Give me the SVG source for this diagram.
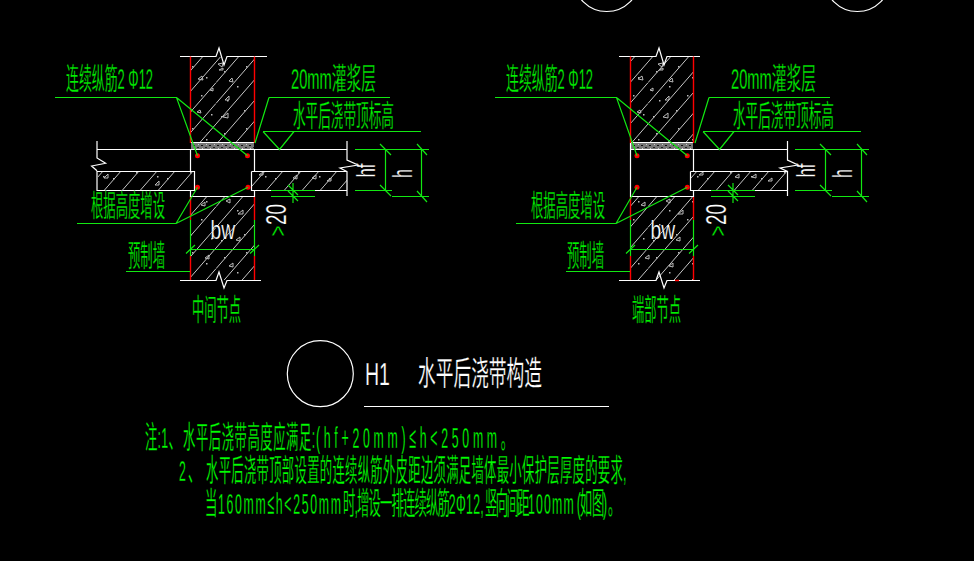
<svg xmlns="http://www.w3.org/2000/svg" width="974" height="561" viewBox="0 0 974 561">
<style>
.w{fill:none;stroke:#fff;stroke-width:1.2}
.g{fill:none;stroke:#12e812;stroke-width:1.2}
.r{fill:none;stroke:#f00;stroke-width:1.4}
.d{fill:#f00}
.h{stroke:none}
.s{fill:none;stroke:#bbb;stroke-width:1}
.t{font-family:"Liberation Sans","Noto Sans CJK SC",sans-serif;fill:#00f000;stroke:#000;stroke-width:.3}
.c{font-family:"Noto Sans CJK SC","Liberation Sans",sans-serif;fill:#00f000;stroke:#000;stroke-width:.3}
.wt{font-family:"Liberation Sans","Noto Sans CJK SC",sans-serif;fill:#fff;stroke:#000;stroke-width:.25}
.n{font-size:28px;stroke-width:.3;fill:#00ff00}
</style>
<defs>
<pattern id="hatch" patternUnits="userSpaceOnUse" width="54" height="62">
<g stroke="#ddd" stroke-width="0.9" fill="none">
<path d="M0,20.7L18,0M0,41.4L36,0M0,62L54,0M18,62L54,20.7M36,62L54,41.4"/>
</g>
<g fill="#bbb">
<rect x="8" y="9" width="1.500" height="1.500"/><rect x="30" y="4" width="1.500" height="1.500"/><rect x="44" y="15" width="1.500" height="1.500"/>
<rect x="21" y="24" width="1.500" height="1.500"/><rect x="11" y="38" width="1.500" height="1.500"/><rect x="39" y="33" width="1.500" height="1.500"/>
<rect x="28" y="48" width="1.500" height="1.500"/><rect x="49" y="52" width="1.500" height="1.500"/><rect x="5" y="54" width="1.500" height="1.500"/>
</g>
</pattern>
<pattern id="grout" patternUnits="userSpaceOnUse" width="8" height="6" x="0" y="144">
<rect width="8" height="6" fill="#777"/>
<rect x="1" y="1" width="2" height="1" fill="#111"/><rect x="5" y="3" width="2" height="1" fill="#222"/><rect x="2" y="4" width="1" height="1" fill="#ccc"/><rect x="6" y="0" width="1" height="1" fill="#ccc"/>
</pattern>
<g id="wall-specks">
<path class="s" d="M198,79L202,76L203,80ZM218,64L223,63L222,67ZM219,70H223V68ZM225,100L229,96V100ZM223,117L228,113V118ZM201,205L205,202V206ZM226,201L230,199V203ZM238,214L243,210V214Z"/>
<path class="s" d="M229,81L232,78L233,82ZM210,90L213,88V91ZM197,112L200,110L201,113ZM236,240L240,237V241ZM205,258L209,255V259ZM229,266L233,263V267Z"/>
</g>
</defs>
<rect width="974" height="561" fill="#000"/>

<g id="top-circles">
<circle class="w" cx="606.7" cy="-21.5" r="33"/>
<circle class="w" cx="857.3" cy="-21.5" r="33"/>
</g>

<g id="node-middle">
<rect class="h" x="191" y="57" width="63" height="86" fill="url(#hatch)"/>
<rect class="h" x="191" y="197" width="63" height="83" fill="url(#hatch)"/>
<rect class="h" x="98" y="172" width="96" height="18" fill="url(#hatch)"/>
<rect class="h" x="252" y="172" width="95" height="18" fill="url(#hatch)"/>
<rect class="h" x="191" y="143" width="63" height="6" fill="url(#grout)"/>
<use href="#wall-specks"/>
<path class="s" d="M104,178L108,174V178ZM155,185L159,181V185ZM259,175L263,172V175ZM293,178L297,175V179ZM312,178L316,175V179ZM327,181L331,178V181Z"/>
<path class="w" d="M180,56.500H216L219,48L224,65L227,56.500H267"/>
<path class="w" d="M180,280.500H216L219,272L224,288L227,280.500H261"/>
<path class="w" d="M190.500,142.500H254.500M190.500,149.500V171.500M254.500,149.500V171.500M190.500,190.500V196.500H254.500V190.500"/>
<path class="w" d="M97,141V158L105.600,163.300L91.600,166L97,170.700"/>
<path class="w" d="M97,149.500H347M97,171.500H194.500V190.500H97ZM251.500,171.500V190.500H347M251.500,171.500H347"/>
<path class="w" d="M347,141V160L358,165L340,168L347,171.500V196"/>
<path class="r" d="M190.500,56.500V143M254.500,56.500V143M190.500,197V220M190.500,256V280M254.500,197V220M254.500,256V280"/>
<path class="g" d="M190.500,220V256M254.500,220V256"/>
<circle class="d" cx="197.500" cy="155.700" r="2.500"/><circle class="d" cx="247.500" cy="155.700" r="2.500"/>
<circle class="d" cx="197.500" cy="187.300" r="2.500"/><circle class="d" cx="248" cy="187.300" r="2.500"/>
<text class="wt" transform="translate(210.500,239) scale(0.74,1)" font-size="26">bw</text>
<text class="wt" transform="translate(285.500,225) rotate(-90) scale(.65,1)" font-size="29">20</text>
<text class="t" transform="translate(285.500,236.500) rotate(-90) scale(.78,1)" font-size="24">&gt;</text>
<text class="wt" transform="translate(375,177.500) rotate(-90) scale(.645,1)" font-size="26">hf</text>
<text class="wt" transform="translate(412,178) rotate(-90) scale(.6,1)" font-size="27">h</text>
</g>

<g id="node-end">
<rect class="h" x="631" y="57" width="62" height="86" fill="url(#hatch)"/>
<rect class="h" x="631" y="197" width="62" height="83" fill="url(#hatch)"/>
<rect class="h" x="691" y="172" width="96" height="18" fill="url(#hatch)"/>
<rect class="h" x="631" y="143" width="62" height="6" fill="url(#grout)"/>
<use href="#wall-specks" x="440"/>
<path class="s" d="M699,175L703,172V175ZM735,177L739,174V178ZM752,177L756,174V178ZM768,181L772,178V181Z"/>
<path class="w" d="M619,56.500H656L659,48L664,65L667,56.500H700"/>
<path class="w" d="M619,280.500H656L659,272L664,288L667,280.500H700"/>
<path class="w" d="M630.500,142.500H693.500M630.500,143V196.500H693.500V190.500M693.500,149.500V171.500"/>
<path class="w" d="M630.500,149.500H787M690.500,171.500V190.500H787M690.500,171.500H787"/>
<path class="w" d="M787.500,141V160L798,165L780,168L787.500,171.500V196"/>
<path class="r" d="M630.500,56.500V143M693.500,56.500V143M630.500,197V220M630.500,256V280M693.500,197V220M693.500,256V280M675,280.500H679"/>
<path class="g" d="M630.500,220V256M693.500,220V256"/>
<circle class="d" cx="637" cy="155.700" r="2.500"/><circle class="d" cx="687.300" cy="155.700" r="2.500"/>
<circle class="d" cx="637" cy="187.300" r="2.500"/><circle class="d" cx="687.300" cy="187.300" r="2.500"/>
<text class="wt" transform="translate(650.500,239) scale(0.74,1)" font-size="26">bw</text>
<text class="wt" transform="translate(725.500,225) rotate(-90) scale(.65,1)" font-size="29">20</text>
<text class="t" transform="translate(725.500,236.500) rotate(-90) scale(.78,1)" font-size="24">&gt;</text>
<text class="wt" transform="translate(815,177.500) rotate(-90) scale(.645,1)" font-size="26">hf</text>
<text class="wt" transform="translate(852,178) rotate(-90) scale(.6,1)" font-size="27">h</text>
</g>

<g id="connectors">
<path class="g" d="M55,97.500H176.500L197.500,155.700M176.500,97.500L247.500,155.700"/>
<path class="g" d="M269,97.500H390M269,97.500L255,143"/>
<path class="g" d="M263,131.500H421M263,131.500L279.500,149.500L294,131.500"/>
<path class="g" d="M77,223.500H176L197.500,187.300M176,223.500L248,187.300"/>
<path class="g" d="M126,271.500H190"/>
<path class="g" d="M190,249.500H254.500M186,253.500L195,245M250,253.500L259,245"/>
<path class="g" d="M355,149.500H429M355,190.500H392M392,196.500H429M385.500,149.500V190.500M421.500,149.500V196.500"/>
<path class="g" d="M380,144L391,155M380,185L391,196M417,144L427,155M417,191L427,202"/>
<path class="g" d="M271,190.500H315M271,196.500H315M293,183V203M288,185L298,195M288,191L298,201"/>
<path class="g" d="M495,97.500H616.500L637,155.700M616.500,97.500L687.300,155.700"/>
<path class="g" d="M709,97.500H830M709,97.500L695,143"/>
<path class="g" d="M703,131.500H861M703,131.500L719.500,149.500L734,131.500"/>
<path class="g" d="M516,223.500H616L637,187.300M616,223.500L687.300,187.300"/>
<path class="g" d="M566,271.500H630"/>
<path class="g" d="M630,249.500H693.500M626,253.500L635,245M689,253.500L698,245"/>
<path class="g" d="M795,149.500H869M795,190.500H832M832,196.500H869M825.500,149.500V190.500M861.500,149.500V196.500"/>
<path class="g" d="M820,144L831,155M820,185L831,196M857,144L867,155M857,191L867,202"/>
<path class="g" d="M711,190.500H755M711,196.500H755M733,183V203M728,185L738,195M728,191L738,201"/>
</g>

<g id="labels">
<text class="t" x="66" y="88.500" font-size="30" textLength="87" lengthAdjust="spacingAndGlyphs">连续纵筋2 Φ12</text>
<text class="t" x="291" y="89" font-size="30" textLength="85" lengthAdjust="spacingAndGlyphs">20mm灌浆层</text>
<text class="c" x="293" y="126" font-size="30" textLength="101" lengthAdjust="spacingAndGlyphs">水平后浇带顶标高</text>
<text class="c" x="91" y="216" font-size="30" textLength="74" lengthAdjust="spacingAndGlyphs">根据高度增设</text>
<text class="c" x="128" y="265.500" font-size="30" textLength="37" lengthAdjust="spacingAndGlyphs">预制墙</text>
<text class="c" x="192" y="319.500" font-size="30" textLength="49" lengthAdjust="spacingAndGlyphs">中间节点</text>
<text class="t" x="506" y="88.500" font-size="30" textLength="87" lengthAdjust="spacingAndGlyphs">连续纵筋2 Φ12</text>
<text class="t" x="731" y="89" font-size="30" textLength="85" lengthAdjust="spacingAndGlyphs">20mm灌浆层</text>
<text class="c" x="733" y="126" font-size="30" textLength="101" lengthAdjust="spacingAndGlyphs">水平后浇带顶标高</text>
<text class="c" x="531" y="216" font-size="30" textLength="74" lengthAdjust="spacingAndGlyphs">根据高度增设</text>
<text class="c" x="567" y="265.500" font-size="30" textLength="37" lengthAdjust="spacingAndGlyphs">预制墙</text>
<text class="c" x="632" y="319.500" font-size="30" textLength="49" lengthAdjust="spacingAndGlyphs">端部节点</text>
</g>

<g id="title">
<circle class="w" cx="320.300" cy="373.700" r="33"/>
<text class="wt" x="365" y="385" font-size="32" textLength="25" lengthAdjust="spacingAndGlyphs">H1</text>
<text class="wt" x="418" y="385" font-size="33" textLength="124" lengthAdjust="spacingAndGlyphs">水平后浇带构造</text>
<path class="w" d="M364,406.500H609"/>
</g>

<g id="notes">
<text class="t n" transform="translate(145,448) scale(.44,1.08)"><tspan x="0" letter-spacing=".6">注:1、</tspan><tspan x="86.400" letter-spacing="1.3">水平后浇带高度应满足:</tspan><tspan x="388.600" letter-spacing="8.440">(hf+20mm)≤h&lt;250mm。</tspan></text>
<text class="t n" transform="translate(179,481) scale(.44,1.08)"><tspan x="0" letter-spacing="5">2、</tspan><tspan x="61.400" letter-spacing=".74">水平后浇带顶部设置的连续纵筋外皮距边须满足墙体最小保护层厚度的要求,</tspan></text>
<text class="t n" transform="translate(205,514) scale(.44,1.08)"><tspan x="0">当</tspan><tspan x="29.500" letter-spacing="3.800">160mm≤h&lt;250mm</tspan><tspan x="313.600" letter-spacing="-1.900">时,增设一排连续纵筋2</tspan><tspan x="570.500" letter-spacing=".5">Φ12,</tspan><tspan x="636.400" letter-spacing="-3.600">竖向间距</tspan><tspan x="734" letter-spacing="2.700">100mm</tspan><tspan x="845 852 879.500 904.500 916">(如图)。</tspan></text>
</g>
</svg>
